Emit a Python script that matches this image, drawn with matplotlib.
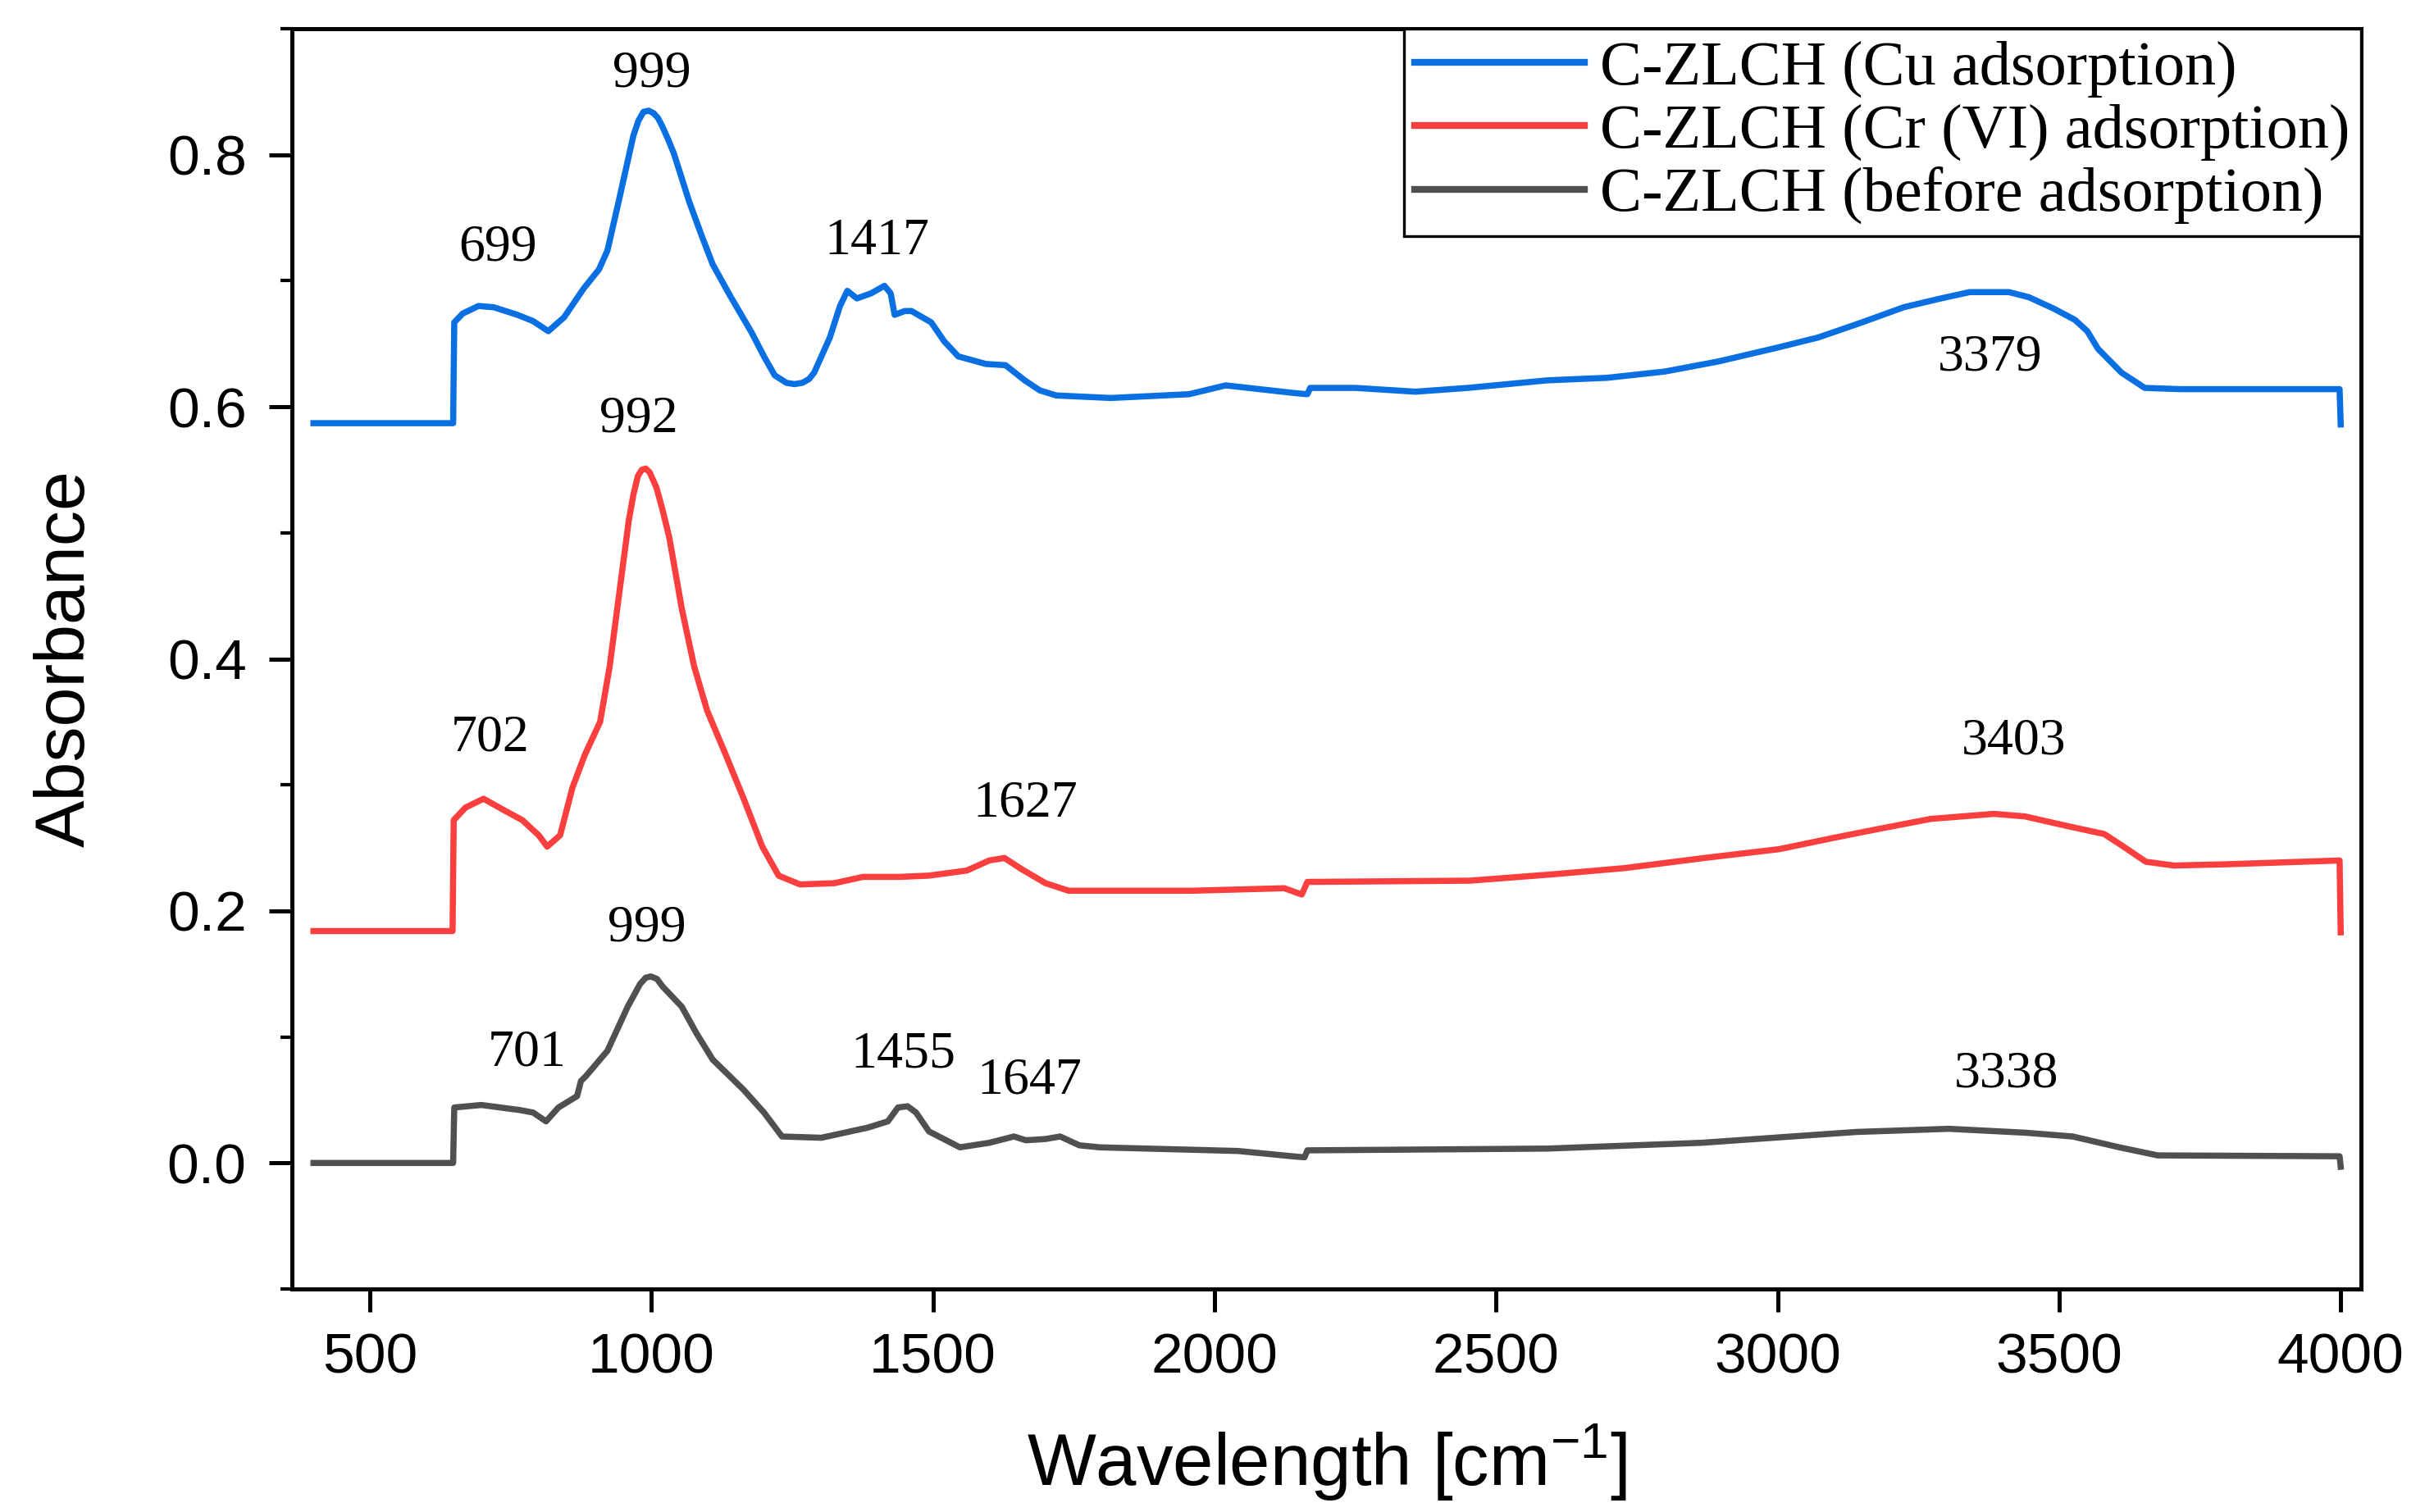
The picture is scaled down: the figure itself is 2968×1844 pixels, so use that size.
import numpy as np
import matplotlib
matplotlib.use("Agg")
import matplotlib.pyplot as plt
from matplotlib.ticker import MultipleLocator

# FTIR spectra (wavenumber in cm-1, absorbance)
cu_x = [400, 648, 650, 665, 693, 720, 762, 790, 817, 845, 880, 907, 922, 942, 957,
        968, 977, 986, 995, 1004, 1012, 1019, 1030, 1040, 1055, 1067, 1090, 1109,
        1140, 1178, 1200, 1219, 1240, 1254, 1268, 1280, 1289, 1317, 1335, 1348, 1365,
        1390, 1414, 1425, 1432, 1450, 1462, 1497, 1520, 1545, 1594, 1629, 1663, 1690,
        1719, 1816, 1955, 2020, 2060, 2140, 2165, 2170, 2250, 2357, 2450, 2591, 2697,
        2800, 2895, 3000, 3072, 3150, 3224, 3290, 3341, 3411, 3446, 3490, 3528, 3550,
        3569, 3611, 3652, 3716, 3998, 4000]
cu_y = [0.587, 0.587, 0.667, 0.674, 0.680, 0.679, 0.673, 0.668, 0.660, 0.671, 0.694,
        0.709, 0.724, 0.763, 0.793, 0.815, 0.827, 0.834, 0.835, 0.833, 0.829, 0.823,
        0.812, 0.801, 0.780, 0.763, 0.735, 0.713, 0.688, 0.659, 0.640, 0.625, 0.619,
        0.618, 0.619, 0.622, 0.627, 0.655, 0.680, 0.692, 0.686, 0.690, 0.696, 0.690,
        0.673, 0.676, 0.676, 0.667, 0.652, 0.640, 0.634, 0.633, 0.621, 0.613, 0.609,
        0.607, 0.610, 0.617, 0.615, 0.611, 0.610, 0.615, 0.615, 0.612, 0.615, 0.621,
        0.623, 0.628, 0.636, 0.647, 0.655, 0.667, 0.679, 0.686, 0.691, 0.691, 0.687,
        0.678, 0.669, 0.660, 0.646, 0.627, 0.615, 0.614, 0.614, 0.586]

cr_x = [400, 647, 649, 670, 702, 738, 771, 800, 815, 838, 860, 882, 909, 926, 943,
        960, 968, 976, 983, 990, 997, 1009, 1020, 1032, 1054, 1076, 1099, 1132, 1164,
        1197, 1226, 1264, 1325, 1376, 1441, 1493, 1560, 1600, 1627, 1658, 1700, 1741,
        1960, 2124, 2155, 2165, 2454, 2600, 2729, 2870, 3003, 3100, 3179, 3272, 3384,
        3439, 3518, 3580, 3611, 3654, 3704, 3797, 3998, 4000]
cr_y = [0.184, 0.184, 0.272, 0.282, 0.289, 0.280, 0.272, 0.260, 0.251, 0.260, 0.298,
        0.324, 0.350, 0.394, 0.452, 0.510, 0.530, 0.545, 0.550, 0.551, 0.548, 0.536,
        0.518, 0.496, 0.440, 0.394, 0.359, 0.324, 0.289, 0.251, 0.228, 0.221, 0.222,
        0.227, 0.227, 0.228, 0.232, 0.240, 0.242, 0.233, 0.222, 0.216, 0.216, 0.218,
        0.213, 0.223, 0.224, 0.229, 0.234, 0.242, 0.249, 0.258, 0.265, 0.273, 0.277,
        0.275, 0.267, 0.261, 0.252, 0.239, 0.236, 0.237, 0.240, 0.183]

raw_x = [400, 648, 650, 698, 766, 790, 813, 835, 868, 875, 884, 922, 958, 980, 990,
         999, 1010, 1020, 1054, 1080, 1109, 1164, 1200, 1232, 1302, 1384, 1420, 1438,
         1455, 1470, 1493, 1548, 1600, 1644, 1665, 1700, 1726, 1760, 1796, 2042, 2138,
         2160, 2165, 2591, 2865, 3140, 3304, 3440, 3524, 3607, 3675, 3998, 4000]
raw_y = [0.0, 0.0, 0.044, 0.046, 0.042, 0.040, 0.033, 0.044, 0.053, 0.065, 0.069,
         0.089, 0.124, 0.142, 0.147, 0.148, 0.146, 0.140, 0.124, 0.103, 0.082, 0.058,
         0.040, 0.021, 0.020, 0.028, 0.033, 0.044, 0.045, 0.040, 0.025, 0.0124, 0.016,
         0.021, 0.018, 0.019, 0.021, 0.014, 0.0124, 0.0095, 0.0053, 0.0045, 0.010,
         0.0114, 0.016, 0.0246, 0.0271, 0.024, 0.021, 0.0124, 0.006, 0.0053, -0.003]

labels = ["C-ZLCH (Cu adsorption)", "C-ZLCH (Cr (VI) adsorption)",
          "C-ZLCH (before adsorption)"]
colors = ["#0a6fe0", "#fb3e3e", "#505050"]

# peak labels: text, x, y
peaks = [("999", 1001, 0.864), ("699", 728, 0.726), ("1417", 1400, 0.731),
         ("3379", 3377, 0.639), ("992", 977, 0.590), ("702", 714, 0.337),
         ("1627", 1664, 0.285), ("3403", 3420, 0.334), ("999", 992, 0.186),
         ("701", 780, 0.087), ("1455", 1447, 0.086), ("1647", 1672, 0.065),
         ("3338", 3406, 0.070)]

serif = ['Liberation Serif', 'DejaVu Serif']
plt.rcParams['font.family'] = ['Liberation Sans', 'DejaVu Sans']
plt.rcParams['mathtext.default'] = 'regular'

fig = plt.figure(figsize=(14.84, 9.22), dpi=200)
ax = fig.add_axes([0.12, 0.1475, 0.850, 0.8335])

for xs, ys, lab, col in zip([cu_x, cr_x, raw_x], [cu_y, cr_y, raw_y], labels, colors):
    ax.plot(xs, ys, color=col, lw=2.7, label=lab, solid_joinstyle='round')

for txt, px, py in peaks:
    ax.text(px, py, txt, ha='center', va='center', fontsize=23, family=serif)

ax.set_xlim(362, 4036)
ax.set_ylim(-0.1, 0.9)
ax.set_xticks(np.arange(500, 4001, 500))
ax.set_yticks([0.0, 0.2, 0.4, 0.6, 0.8])
ax.yaxis.set_minor_locator(MultipleLocator(0.1))
ax.set_yticklabels(["0.0", "0.2", "0.4", "0.6", "0.8"])

for s in ax.spines.values():
    s.set_linewidth(1.8)
ax.tick_params(axis='both', which='major', direction='out', length=10, width=1.8,
               labelsize=25)
ax.tick_params(axis='x', which='major', pad=9)
ax.tick_params(axis='y', which='major', pad=10)
ax.tick_params(axis='y', which='minor', direction='out', length=5, width=1.5)

ax.set_xlabel("Wavelength [cm$^{-1}$]", fontsize=32, labelpad=16)
ax.set_ylabel("Absorbance", fontsize=31, labelpad=30)

leg = ax.legend(loc='upper right', borderaxespad=0, fancybox=False, framealpha=1,
                edgecolor='black', handlelength=2.7, handletextpad=0.25,
                borderpad=0.18, labelspacing=0.1,
                prop={'family': serif, 'size': 27.5})
leg.get_frame().set_linewidth(1.2)
for h in leg.get_lines():
    h.set_linewidth(3.0)

fig.savefig("out.png", dpi=200)
